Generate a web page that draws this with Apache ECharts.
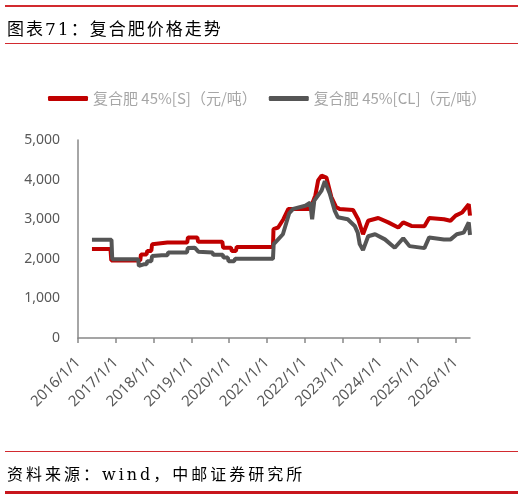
<!DOCTYPE html>
<html>
<head>
<meta charset="utf-8">
<script src="https://cdn.jsdelivr.net/npm/echarts@6/dist/echarts.min.js"></script>
<style>
  body { margin: 0; background: #fff; }
  .page { position: relative; width: 525px; height: 497px; overflow: hidden; }
  #chart { position: absolute; left: 0; top: 0; width: 525px; height: 497px; }
  .rule { position: absolute; left: 5px; width: 513px; background: #d22a2f; }
  .caption { position: absolute; left: 7px; color: #000; white-space: nowrap;
    font-family: "DejaVu Serif", "Noto Sans CJK SC", serif; }
</style>
</head>
<body>
<div class="page">
  <div id="chart"></div>
  <div class="rule" style="top:5px;height:2px;"></div>
  <div class="caption" style="top:15px;font-size:17px;letter-spacing:2px;">图表71：复合肥价格走势</div>
  <div class="rule" style="top:43px;height:1px;"></div>
  <div class="rule" style="top:451px;height:1px;"></div>
  <div class="caption" style="top:461px;font-size:16px;letter-spacing:3px;">资料来源：wind，中邮证券研究所</div>
  <div class="rule" style="top:491px;height:3px;background:#c8161d;"></div>
</div>
<script>
// 复合肥 45%[S] (red)
const sDates = [
  '2016-05-15', '2016-11-10', '2016-11-18', '2017-08-25', '2017-09-01', '2017-10-25',
  '2017-11-01', '2017-12-10', '2017-12-18', '2018-05-15', '2018-11-22', '2018-11-30',
  '2019-02-28', '2019-03-08', '2019-10-28', '2019-11-05', '2020-01-20', '2020-01-28',
  '2020-03-08', '2020-03-15', '2021-03-01', '2021-03-06', '2021-04-20', '2021-05-08',
  '2021-06-10', '2021-07-28', '2022-02-24', '2022-03-10', '2022-04-15', '2022-05-12',
  '2022-06-14', '2022-06-28', '2022-07-31', '2022-09-17', '2022-11-03', '2022-12-05',
  '2023-04-15', '2023-06-03', '2023-07-20', '2023-09-08', '2023-12-15', '2024-03-20',
  '2024-06-25', '2024-08-12', '2024-10-30', '2025-03-05', '2025-04-20', '2025-09-10',
  '2025-11-12', '2026-01-01', '2026-03-05', '2026-05-08', '2026-05-20'
];
const sValues = [
  2250, 2250, 1960, 1960, 2110, 2110,
  2200, 2200, 2370, 2410, 2410, 2540,
  2540, 2430, 2430, 2280, 2280, 2200,
  2200, 2300, 2300, 2750, 2790, 2830,
  3000, 3260, 3260, 3220, 3600, 3980,
  4100, 4150, 4050, 3560, 3300, 3260,
  3230, 3000, 2620, 2960, 3030, 2920,
  2790, 2920, 2830, 2820, 3030, 3000,
  2960, 3090, 3170, 3380, 3090
];

// 复合肥 45%[CL] (grey)
const clDates = [
  '2016-05-15', '2016-11-20', '2016-11-27', '2017-08-05', '2017-08-12', '2017-09-27',
  '2017-10-25', '2017-11-01', '2017-12-10', '2017-12-18', '2018-03-22', '2018-05-15',
  '2018-05-22', '2018-11-20', '2018-11-28', '2019-02-03', '2019-03-10', '2019-07-25',
  '2019-08-01', '2019-11-01', '2019-11-08', '2019-12-20', '2019-12-27', '2020-02-20',
  '2020-02-28', '2021-03-01', '2021-03-08', '2021-04-20', '2021-06-05', '2021-08-05',
  '2021-09-12', '2022-01-08', '2022-02-24', '2022-03-15', '2022-04-05', '2022-06-14',
  '2022-07-16', '2022-09-01', '2022-10-20', '2022-11-18', '2023-02-22', '2023-05-01',
  '2023-05-30', '2023-06-18', '2023-07-20', '2023-09-08', '2023-11-14', '2024-02-17',
  '2024-05-22', '2024-08-12', '2024-10-12', '2025-03-05', '2025-04-20', '2025-09-10',
  '2025-11-14', '2026-01-12', '2026-03-20', '2026-05-08', '2026-05-20'
];
const clValues = [
  2480, 2480, 1990, 1990, 1820, 1860,
  1860, 1940, 1940, 2070, 2090, 2090,
  2160, 2160, 2270, 2280, 2180, 2160,
  2100, 2100, 2030, 2030, 1940, 1940,
  2000, 2000, 2370, 2490, 2620, 3150,
  3260, 3340, 3420, 3000, 3470, 3720,
  3960, 3650, 3210, 3050, 3000, 2830,
  2660, 2370, 2220, 2570, 2620, 2490,
  2280, 2520, 2320, 2270, 2540, 2490,
  2490, 2620, 2660, 2920, 2600
];

const seriesNames = ['复合肥 45%[S]（元/吨）', '复合肥 45%[CL]（元/吨）'];
const xMin = '2016-01-01';
const xMax = '2026-05-20';

const chart = echarts.init(document.getElementById('chart'));
const DAY = 86400000;

chart.setOption({
  animation: false,
  color: ['#c00000', '#555555'],
  legend: {
    left: 43,
    top: 86,
    itemWidth: 40,
    itemHeight: 5,
    itemGap: 12,
    icon: 'roundRect',
    textStyle: { color: '#a6a6a6', fontSize: 15, fontFamily: 'Noto Sans CJK SC' },
    data: seriesNames
  },
  grid: { left: 78, right: 55, top: 140, bottom: 159 },
  xAxis: {
    type: 'time',
    min: xMin,
    max: xMax,
    minInterval: 365 * DAY,
    maxInterval: 366 * DAY,
    axisLine: { lineStyle: { color: '#888', width: 1.5 } },
    axisTick: { show: true, length: 5, lineStyle: { color: '#888', width: 1.5 } },
    splitLine: { show: false },
    axisLabel: {
      rotate: 45,
      margin: 22,
      color: '#595959',
      fontSize: 15,
      fontFamily: 'Noto Sans',
      hideOverlap: false,
      formatter: (v) => {
        const d = new Date(v);
        return d.getFullYear() + '/' + (d.getMonth() + 1) + '/' + d.getDate();
      }
    }
  },
  yAxis: {
    type: 'value',
    min: 0,
    max: 5000,
    interval: 1000,
    axisLine: { show: true, lineStyle: { color: '#888', width: 1.5 } },
    axisTick: { show: false },
    splitLine: { show: false },
    axisLabel: {
      margin: 18,
      color: '#595959',
      fontSize: 14,
      fontFamily: 'Noto Sans',
      formatter: (v) => v.toLocaleString('en-US')
    }
  },
  series: [
    {
      name: seriesNames[0],
      type: 'line',
      data: sDates.map((d, i) => [d, sValues[i]]),
      symbol: 'none',
      lineStyle: { width: 4, color: '#c00000' }
    },
    {
      name: seriesNames[1],
      type: 'line',
      data: clDates.map((d, i) => [d, clValues[i]]),
      symbol: 'none',
      lineStyle: { width: 4, color: '#555555' }
    }
  ]
});
</script>
</body>
</html>
